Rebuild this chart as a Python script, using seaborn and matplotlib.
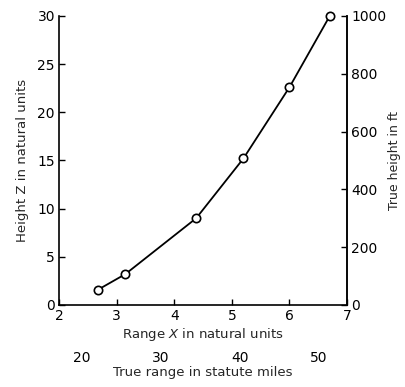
import numpy as np
import pandas as pd
import seaborn as sns
import matplotlib
matplotlib.use('Agg')
import matplotlib.pyplot as plt

# points (natural units)
range_x = [2.68, 3.15, 4.38, 5.20, 6.00, 6.70]
height_z = [1.6, 3.2, 9.0, 15.2, 22.6, 30.0]

height_ticks_ft = [0, 200, 400, 600, 800, 1000]
miles_ticks = [20, 30, 40, 50]

df = pd.DataFrame({'x': range_x, 'z': height_z})

sns.set_theme(style='ticks')
plt.rcParams['font.family'] = ['DejaVu Sans']

fig = plt.figure(figsize=(4.05, 3.87), dpi=100)
ax = fig.add_axes([0.146, 0.212, 0.711, 0.747])

sns.lineplot(data=df, x='x', y='z', ax=ax, color='black', linewidth=1.3,
             marker='o', markersize=6, markerfacecolor='white',
             markeredgecolor='black', markeredgewidth=1.2, clip_on=False)

ax.set_xlim(2, 7)
ax.set_ylim(0, 30)
ax.set_xticks([2, 3, 4, 5, 6, 7])
ax.set_yticks([0, 5, 10, 15, 20, 25, 30])
ax.tick_params(direction='in', length=4, width=1, labelsize=10, colors='black', pad=3)
ax.set_xlabel('Range $X$ in natural units', fontsize=9.5, labelpad=2)
ax.set_ylabel('Height Z in natural units', fontsize=9.5, labelpad=6)
ax.spines['top'].set_visible(False)
for s in ['left', 'bottom', 'right']:
    ax.spines[s].set_color('black')
    ax.spines[s].set_linewidth(1.2)

# right axis: feet (1000 ft = 30 units)
ax2 = ax.secondary_yaxis('right', functions=(lambda z: z * 1000 / 30, lambda f: f * 30 / 1000))
ax2.set_yticks(height_ticks_ft)
ax2.tick_params(direction='in', length=4, width=1, labelsize=10, colors='black', pad=3)
ax2.set_ylabel('True height in ft', fontsize=9, labelpad=1)
ax2.spines['right'].set_linewidth(1.2)

# lower axis: statute miles
ax3 = ax.secondary_xaxis(-0.15, functions=(lambda x: 20 + (x - 2.4) * 7.3, lambda m: 2.4 + (m - 20) / 7.3))
ax3.set_xticks(miles_ticks)
ax3.tick_params(length=0, labelsize=10, colors='black', pad=2)
ax3.spines['bottom'].set_visible(False)
ax3.set_xlabel('True range in statute miles', fontsize=9.5, labelpad=1)

fig.savefig('out.png', dpi=100, facecolor='white')
